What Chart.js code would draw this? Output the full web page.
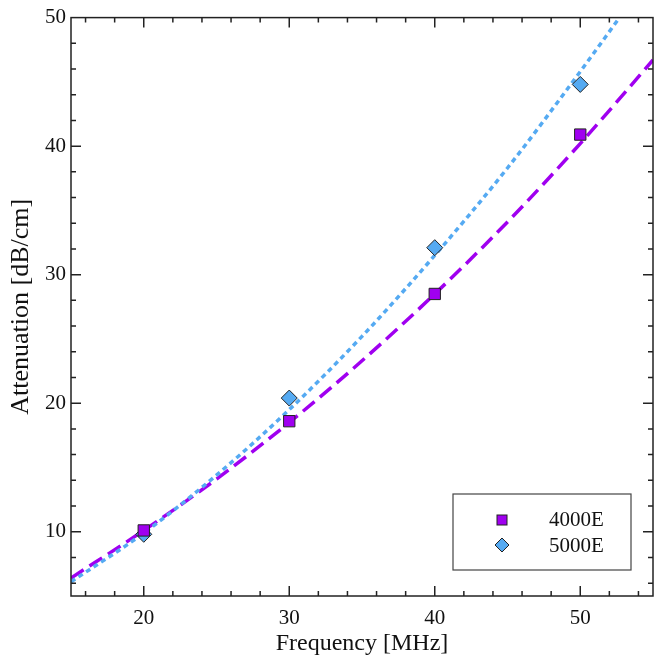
<!DOCTYPE html>
<html>
<head>
<meta charset="utf-8">
<script src="https://cdn.jsdelivr.net/npm/chart.js@4"></script>
<style>
  body { margin: 0; background: #fff; }
  #wrap { width: 662px; height: 662px; }
</style>
</head>
<body>
<div id="wrap"><canvas id="myChart"></canvas></div>
<script>
// measured points
const freqs = [20, 30, 40, 50];
const atten4000 = [10.1, 18.6, 28.5, 40.9];
const atten5000 = [9.8, 20.4, 32.1, 44.8];

// fit curves
const fitX4000 = [15, 20, 25, 30, 35, 40, 45, 50, 55];
const fit4000 = [6.4, 10.1, 14.1, 18.5, 23.3, 28.5, 34.1, 40.2, 46.7];
const fitX5000 = [15, 20, 25, 30, 35, 40, 45, 50, 52.7];
const fit5000 = [6.1, 9.9, 14.4, 19.5, 25.2, 31.5, 38.3, 45.8, 50];

const xTicks = [20, 30, 40, 50];
const yTicks = [10, 20, 30, 40, 50];
const seriesNames = ['4000E', '5000E'];

const purple = '#a000f0';
const blue = '#55aaf2';
const serif = "'Liberation Serif', 'DejaVu Serif', serif";

const toPts = (xs, ys) => xs.map((x, i) => ({ x: x, y: ys[i] }));

// inward ticks on all four sides + frame
const frameTicks = {
  id: 'frameTicks',
  afterDraw(chart) {
    const { ctx, chartArea: a, scales } = chart;
    const xs = scales.x, ys = scales.y;
    ctx.save();
    ctx.strokeStyle = '#222';
    ctx.lineWidth = 1.5;
    ctx.strokeRect(a.left, a.top, a.right - a.left, a.bottom - a.top);
    ctx.beginPath();
    for (let v = 16; v <= 54; v += 2) {
      const len = v % 10 === 0 ? 10 : 5;
      const px = xs.getPixelForValue(v);
      ctx.moveTo(px, a.bottom); ctx.lineTo(px, a.bottom - len);
      ctx.moveTo(px, a.top); ctx.lineTo(px, a.top + len);
    }
    for (let v = 6; v <= 48; v += 2) {
      const len = v % 10 === 0 ? 10 : 5;
      const py = ys.getPixelForValue(v);
      ctx.moveTo(a.left, py); ctx.lineTo(a.left + len, py);
      ctx.moveTo(a.right, py); ctx.lineTo(a.right - len, py);
    }
    ctx.stroke();
    ctx.restore();
  }
};

const boxLegend = {
  id: 'boxLegend',
  afterDraw(chart) {
    const ctx = chart.ctx;
    ctx.save();
    ctx.fillStyle = '#fff';
    ctx.fillRect(453, 494, 178, 76);
    ctx.strokeStyle = '#444';
    ctx.lineWidth = 1.2;
    ctx.strokeRect(453, 494, 178, 76);
    // square
    ctx.fillStyle = purple;
    ctx.strokeStyle = '#222';
    ctx.lineWidth = 1;
    ctx.fillRect(497, 515, 10, 10);
    ctx.strokeRect(497, 515, 10, 10);
    // diamond
    ctx.fillStyle = blue;
    ctx.beginPath();
    ctx.moveTo(502, 538); ctx.lineTo(509, 545); ctx.lineTo(502, 552); ctx.lineTo(495, 545);
    ctx.closePath();
    ctx.fill(); ctx.stroke();
    ctx.fillStyle = '#111';
    ctx.font = '21px ' + serif;
    ctx.textBaseline = 'middle';
    ctx.fillText(seriesNames[0], 549, 520);
    ctx.fillText(seriesNames[1], 549, 546);
    ctx.restore();
  }
};

const ctx = document.getElementById('myChart').getContext('2d');
const chart = new Chart(ctx, {
  type: 'scatter',
  data: {
    datasets: [
      {
        label: seriesNames[0],
        data: toPts(freqs, atten4000),
        pointStyle: 'rect',
        pointRadius: 8,
        backgroundColor: purple,
        borderColor: '#222',
        borderWidth: 1,
        order: 0
      },
      {
        label: seriesNames[1],
        data: toPts(freqs, atten5000),
        pointStyle: 'rectRot',
        pointRadius: 8,
        backgroundColor: blue,
        borderColor: '#222',
        borderWidth: 1,
        order: 1
      },
      {
        label: 'fit 5000E',
        data: toPts(fitX5000, fit5000),
        showLine: true,
        pointRadius: 0,
        borderColor: blue,
        borderWidth: 3.5,
        borderDash: [5, 4],
        cubicInterpolationMode: 'monotone',
        order: 2
      },
      {
        label: 'fit 4000E',
        data: toPts(fitX4000, fit4000),
        showLine: true,
        pointRadius: 0,
        borderColor: purple,
        borderWidth: 3.5,
        borderDash: [15, 7],
        cubicInterpolationMode: 'monotone',
        order: 3
      }
    ]
  },
  options: {
    animation: false,
    responsive: true,
    maintainAspectRatio: false,
    layout: { padding: { top: 11, right: 7, left: 0, bottom: 0 } },
    plugins: {
      legend: { display: false },
      tooltip: { enabled: false }
    },
    scales: {
      x: {
        type: 'linear',
        min: 15,
        max: 55,
        afterBuildTicks: (scale) => { scale.ticks = xTicks.map((v) => ({ value: v })); },
        afterFit: (scale) => { scale.height = 66; },
        grid: { display: false, drawTicks: false },
        border: { display: false },
        ticks: { color: '#111', font: { family: serif, size: 21 }, padding: 10, maxRotation: 0 },
        title: { display: true, text: 'Frequency [MHz]', color: '#111', font: { family: serif, size: 24 }, padding: { top: 2 } }
      },
      y: {
        type: 'linear',
        min: 5,
        max: 50,
        afterBuildTicks: (scale) => { scale.ticks = yTicks.map((v) => ({ value: v })); },
        afterFit: (scale) => { scale.width = 71; },
        grid: { display: false, drawTicks: false },
        border: { display: false },
        ticks: { color: '#111', font: { family: serif, size: 21 }, padding: 5 },
        title: { display: true, text: 'Attenuation [dB/cm]', color: '#111', font: { family: serif, size: 26 }, padding: { top: 6, bottom: 0 } }
      }
    }
  },
  plugins: [frameTicks, boxLegend]
});
</script>
</body>
</html>
